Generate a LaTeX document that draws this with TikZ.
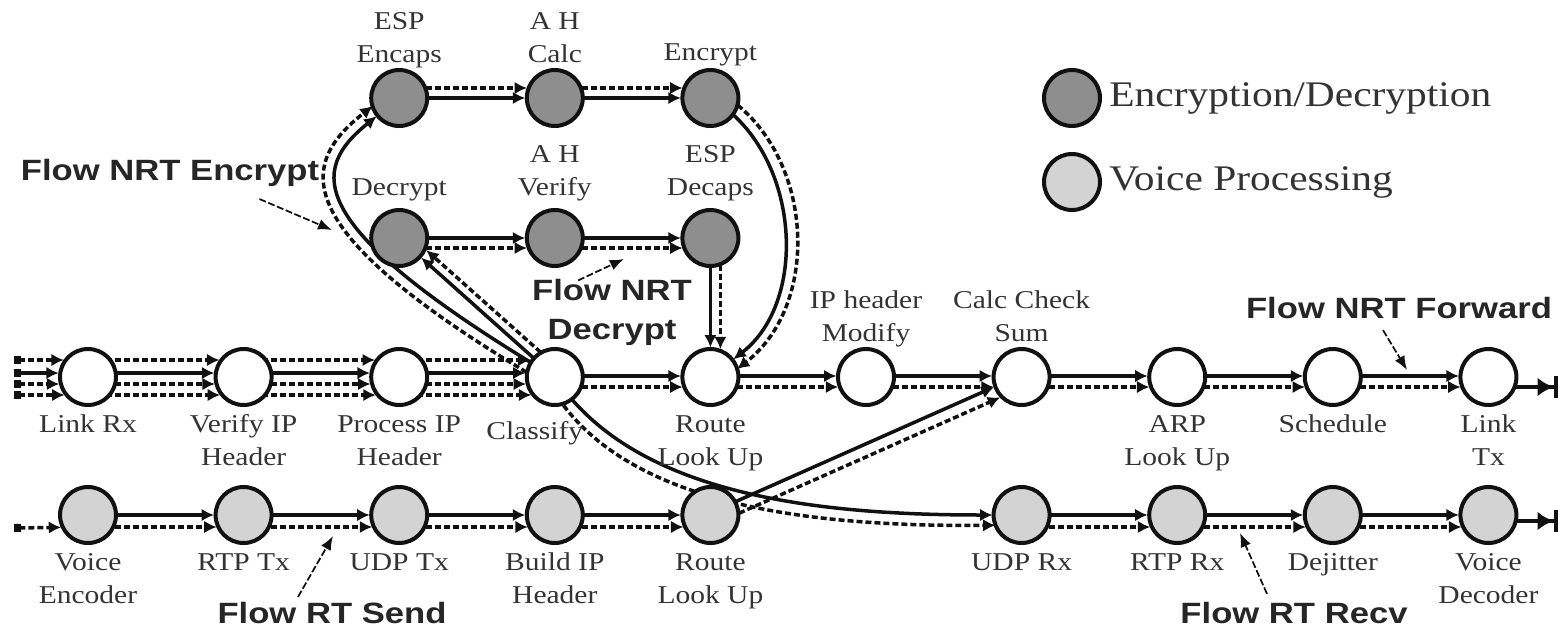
\documentclass[tikz,border=0pt]{standalone}
\usepackage{fontspec}
\setmainfont{Liberation Serif}[FakeStretch=1.15]
\newfontfamily\flowfamily{Liberation Sans}[FakeStretch=1.18]
\usepackage{xcolor}
\definecolor{ink}{HTML}{111111}
\definecolor{cryptfill}{HTML}{8E8E8E}
\definecolor{voicefill}{HTML}{D3D3D3}
\usetikzlibrary{positioning,calc,arrows.meta}
\pgfdeclarelayer{background}
\pgfsetlayers{background,main}

% one lane of a flow, shifted sideways from the centre line
\newcommand{\lane}[4][]{%
  \pgfmathsetmacro\lanecut{sqrt(34.8-(#4/1mm)^2)}%
  \draw[#1,shorten >=\lanecut mm] ($(#2)!#4!90:(#3)$) -- ($(#3)!#4!-90:(#2)$);}

\begin{document}
\begin{tikzpicture}[x=0.2mm,y=-0.2mm,
    proc/.style={circle,draw=ink,line width=0.8mm,minimum size=11.2mm,inner sep=0pt,fill=white},
    crypt/.style={proc,fill=cryptfill},
    voice/.style={proc,fill=voicefill},
    tag/.style={font=\fontsize{14.6}{18.8}\selectfont,align=center,inner sep=0pt,text=black!80},
    flowtag/.style={font=\flowfamily\bfseries\fontsize{16.7}{22.2}\selectfont,align=center,inner sep=0pt,text=black!85},
    wire/.style={draw=ink,line width=0.7mm,-{Latex[length=2.5mm,width=2.5mm]}},
    dashwire/.style={wire,dash pattern=on 1.2mm off 0.6mm},
    stub/.style={arrows={Square[length=1.4mm,width=1.6mm]-Latex[length=2.5mm,width=2.5mm]}},
    sink/.style={arrows={-Latex[length=3.2mm,width=3.8mm]Bar[width=4.4mm,line width=0.9mm]},shorten >=0pt},
    pointer/.style={draw=ink,line width=0.35mm,dash pattern=on 1.4mm off 0.5mm,-{Latex[length=2.8mm,width=2.2mm]}},
    label distance=0.4mm]
  \useasboundingbox (0,0) rectangle (1568,630);

  % network path
  \foreach \nm/\i/\txt/\s/\dy in {linkrx/0/Link Rx/below/0, verifyip/1/Verify IP\\Header/below/0,
      procip/2/Process IP\\Header/below/0, routem/4/Route\\Look Up/below/0,
      ipmod/5/IP header\\Modify/above/-1.4, csum/6/Calc Check\\Sum/above/-1.4,
      arp/7/ARP\\Look Up/below/0, sched/8/Schedule/below/0, linktx/9/Link\\Tx/below/0}
    \node[proc,label={[tag,yshift=\dy mm]\s:{\strut\txt\strut}}] (\nm) at ({88+155.6*\i},377) {};
  \node[proc,label={[tag,xshift=-4mm,yshift=-1.4mm]below:{\strut Classify\strut}}] (classify) at (554.8,377) {};

  % ipsec
  \foreach \nm/\i/\y/\dy/\txt in {espenc/2/98/-1.4/ESP\\Encaps, ahcalc/3/98/-1.4/A H\\Calc,
      encrypt/4/98/-1.0/Encrypt, decrypt/2/238/0/Decrypt, ahverify/3/238/0/A H\\Verify,
      espdec/4/238/0/ESP\\Decaps}
    \node[crypt,label={[tag,yshift=\dy mm]above:{\strut\txt\strut}}] (\nm) at ({88+155.6*\i},\y) {};

  % voice
  \foreach \nm/\i/\txt in {vcenc/0/Voice\\Encoder, rtptx/1/RTP Tx, udptx/2/UDP Tx,
      buildip/3/Build IP\\Header, routeb/4/Route\\Look Up, udprx/6/UDP Rx,
      rtprx/7/RTP Rx, dejit/8/Dejitter, vcdec/9/Voice\\Decoder}
    \node[voice,label={[tag]below:{\strut\txt\strut}}] (\nm) at ({88+155.6*\i},515) {};

  % legend
  \node[crypt] (keyenc) at (1072,98) {};
  \node[right=1.4mm of keyenc,font=\fontsize{20.5}{24}\selectfont,inner sep=0pt,text=black!80] (keyenctxt) {Encryption/Decryption};
  \node[voice] (keyvc) at (1072,182) {};
  \node[right=1.4mm of keyvc,font=\fontsize{20.5}{24}\selectfont,inner sep=0pt,text=black!80] (keyvctxt) {Voice Processing};

  % flow names
  \node[flowtag] (fenc) at (170,173) {Flow NRT Encrypt};
  \node[flowtag] (fdec) at (612,312) {Flow NRT\\Decrypt};
  \node[flowtag] (ffwd) at (1399,308) {Flow NRT Forward};
  \node[flowtag] (fsend) at (332,613) {Flow RT Send};
  \node[flowtag] (frecv) at (1294,613) {Flow RT Recv};

  \coordinate (inM) at (14,377);
  \coordinate (outM) at (1558,387);
  \coordinate (inB) at (14,516);
  \coordinate (outB) at (1558,521);
  \coordinate (encpt) at (332,230);
  \coordinate (decpt) at (624,259);
  \coordinate (fwdpt) at (1407,370);
  \coordinate (sendpt) at (333,536);
  \coordinate (recvpt) at (1240,533);

  \begin{pgfonlayer}{background}
    % shared receive hops
    \lane[dashwire,stub]{inM}{linkrx}{3.4mm}
    \lane[wire,stub]{inM}{linkrx}{0.8mm}
    \lane[dashwire,stub]{inM}{linkrx}{-1.4mm}
    \lane[dashwire,stub]{inM}{linkrx}{-3.6mm}
    \foreach \a/\b in {linkrx/verifyip,verifyip/procip,procip/classify}{
      \lane[dashwire]{\a}{\b}{3.4mm}
      \lane[wire]{\a}{\b}{0.8mm}
      \lane[dashwire]{\a}{\b}{-1.4mm}
      \lane[dashwire]{\a}{\b}{-3.6mm}
    }
    \foreach \a/\b in {classify/routem,routem/ipmod,ipmod/csum,csum/arp,arp/sched,sched/linktx}{
      \lane[wire]{\a}{\b}{0.2mm}
      \lane[dashwire]{\a}{\b}{-2mm}
    }
    \draw[wire,sink] ($(linktx)+(0,10)$) -- (outM);

    % encrypt / decrypt
    \foreach \a/\b in {espenc/ahcalc,ahcalc/encrypt}{
      \lane[dashwire]{\a}{\b}{2mm}
      \lane[wire]{\a}{\b}{0mm}
    }
    \foreach \a/\b in {decrypt/ahverify,ahverify/espdec}{
      \lane[wire]{\a}{\b}{0mm}
      \lane[dashwire]{\a}{\b}{-2mm}
    }
    \draw[wire,shorten >=5.8mm] (classify.center) .. controls (300,225) and (310,170) .. (espenc.center);
    \draw[dashwire,shorten >=5.2mm] ($(classify)+(-5,9)$) .. controls (286,232) and (296,166) .. ($(espenc)+(-6,-8)$);
    \lane[wire]{classify}{decrypt}{0mm}
    \lane[dashwire]{classify}{decrypt}{-1.8mm}
    \draw[wire,shorten >=5.8mm] (encrypt.center) .. controls (800,150) and (810,300) .. (routem.center);
    \draw[dashwire,shorten >=5.2mm] ($(encrypt)+(5,-8)$) .. controls (814,144) and (824,302) .. ($(routem)+(6,8)$);
    \lane[wire]{espdec}{routem}{0mm}
    \lane[dashwire]{espdec}{routem}{2mm}

    % voice send and receive
    \lane[dashwire,stub]{inB}{vcenc}{-2.4mm}
    \foreach \a/\b in {vcenc/rtptx,rtptx/udptx,udptx/buildip,buildip/routeb,udprx/rtprx,rtprx/dejit,dejit/vcdec}{
      \lane[wire]{\a}{\b}{0mm}
      \lane[dashwire]{\a}{\b}{-2.4mm}
    }
    \lane[wire]{routeb}{csum}{0.4mm}
    \lane[dashwire]{routeb}{csum}{-2mm}
    \draw[wire,shorten >=5.8mm] (classify.center) .. controls (630,490) and (800,515) .. (udprx.center);
    \draw[dashwire,shorten >=5.2mm] ($(classify)+(-6,6)$) .. controls (616,503) and (800,527) .. ($(udprx)+(0,10)$);
    \draw[wire,sink] ($(vcdec)+(0,6)$) -- (outB);
  \end{pgfonlayer}

  % pointers from flow names
  \draw[pointer] ([shift={(-60,12)}]fenc.south east) -- (encpt);
  \draw[pointer] ([shift={(-34,2)}]fdec.north) -- (decpt);
  \draw[pointer] ([shift={(-16,11)}]ffwd.south) -- (fwdpt);
  \draw[pointer] ([shift={(-34,-5)}]fsend.north) -- (sendpt);
  \draw[pointer] ([shift={(-27,-8)}]frecv.north) -- (recvpt);
\end{tikzpicture}
\end{document}
